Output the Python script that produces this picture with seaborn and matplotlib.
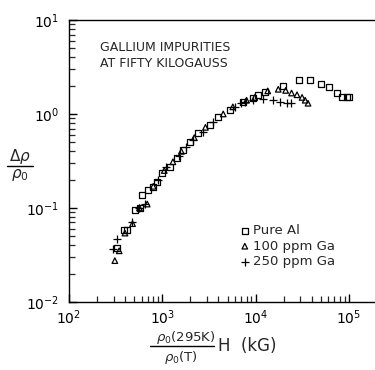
import numpy as np
import pandas as pd
import matplotlib
matplotlib.use("Agg")
import matplotlib.pyplot as plt
import seaborn as sns
from matplotlib.ticker import LogLocator, FixedLocator, NullFormatter
from matplotlib.lines import Line2D

sns.set_theme(style="white")
plt.rcParams['font.family'] = ['DejaVu Sans']
plt.rcParams['mathtext.fontset'] = 'dejavusans'

# Pure Al (open squares)
pure_x = [327, 389, 417, 509, 576, 603, 704, 795, 873, 1000, 1200, 1435, 1660, 1980,
          2400, 3230, 3960, 5300, 7300, 9300, 10700, 12600, 19500, 29500, 38700,
          50000, 61500, 74000, 85000, 95000, 100000]
pure_y = [0.0375, 0.058, 0.058, 0.095, 0.10, 0.137, 0.155, 0.168, 0.19, 0.236, 0.27,
          0.34, 0.41, 0.50, 0.63, 0.76, 0.93, 1.10, 1.34, 1.48, 1.60, 1.70, 2.0, 2.3,
          2.3, 2.1, 1.93, 1.68, 1.52, 1.50, 1.50]

# 100 ppm Ga (open triangles)
ga100_x = [310, 345, 398, 480, 570, 690, 800, 1050, 1300, 1600, 2200, 2900, 4500,
           5700, 8000, 9800, 13500, 17500, 21000, 24300, 27800, 31500, 34000, 36500]
ga100_y = [0.0275, 0.035, 0.054, 0.068, 0.10, 0.11, 0.17, 0.25, 0.31, 0.40, 0.56,
           0.72, 1.0, 1.19, 1.40, 1.50, 1.76, 1.83, 1.78, 1.67, 1.60, 1.50, 1.40, 1.30]

# 250 ppm Ga (plus signs)
ga250_x = [297, 327, 470, 560, 650, 900, 1100, 1500, 1800, 2130, 2700, 3500, 6000,
           7000, 7700, 9400, 12000, 15500, 18300, 21500, 24000]
ga250_y = [0.037, 0.047, 0.07, 0.10, 0.11, 0.20, 0.27, 0.36, 0.44, 0.53, 0.64, 0.82,
           1.2, 1.3, 1.34, 1.40, 1.44, 1.40, 1.35, 1.30, 1.30]

legend_labels = ["Pure Al", "100 ppm Ga", "250 ppm Ga"]

W, H = 375, 370
fig = plt.figure(figsize=(3.75, 3.7), dpi=100)
ax = fig.add_axes([0.184, 0.184, 0.816, 0.762])

df_p = pd.DataFrame({"x": pure_x, "y": pure_y})
df_a = pd.DataFrame({"x": ga100_x, "y": ga100_y})
df_b = pd.DataFrame({"x": ga250_x, "y": ga250_y})

sns.scatterplot(data=df_p, x="x", y="y", ax=ax, marker="s", s=18,
                facecolor="none", edgecolor="black", linewidth=0.9, label=legend_labels[0])
sns.scatterplot(data=df_a, x="x", y="y", ax=ax, marker="^", s=16,
                facecolor="none", edgecolor="black", linewidth=0.9, label=legend_labels[1])
sns.scatterplot(data=df_b, x="x", y="y", ax=ax, marker="+", s=36,
                color="black", linewidth=0.9, label=legend_labels[2])

ax.set_xscale("log")
ax.set_yscale("log")
ax.set_xlim(100, 10 ** 5.28)
ax.set_ylim(0.01, 10)

ax.xaxis.set_major_locator(FixedLocator([1e2, 1e3, 1e4, 1e5]))
ax.yaxis.set_major_locator(FixedLocator([1e-2, 1e-1, 1e0, 1e1]))
ax.xaxis.set_minor_locator(LogLocator(base=10, subs=np.arange(2, 10), numticks=20))
ax.yaxis.set_minor_locator(LogLocator(base=10, subs=np.arange(2, 10), numticks=20))
ax.xaxis.set_minor_formatter(NullFormatter())
ax.yaxis.set_minor_formatter(NullFormatter())
ax.set_xticklabels([r"$10^{2}$", r"$10^{3}$", r"$10^{4}$", r"$10^{5}$"])
ax.set_yticklabels([r"$10^{-2}$", r"$10^{-1}$", r"$10^{0}$", r"$10^{1}$"])

ax.tick_params(axis="both", which="major", direction="in", length=6, width=1,
               labelsize=10, colors="black", bottom=True, left=True, pad=7)
ax.tick_params(axis="x", which="major", pad=5)
ax.tick_params(axis="both", which="minor", direction="in", length=4, width=0.9,
               bottom=True, left=True)

for side in ["left", "bottom", "top"]:
    ax.spines[side].set_visible(True)
    ax.spines[side].set_color("black")
    ax.spines[side].set_linewidth(1.0)
ax.spines["right"].set_visible(False)

ax.set_xlabel("")
ax.set_ylabel("")

ax.text(0.10, 0.925, "GALLIUM IMPURITIES\nAT FIFTY KILOGAUSS", transform=ax.transAxes,
        fontsize=9, va="top", ha="left", linespacing=1.3)

leg = ax.legend(loc="upper left", bbox_to_anchor=(0.54, 0.295), frameon=False,
                fontsize=9.5, handletextpad=0.2, labelspacing=0.2, handlelength=0.8,
                borderaxespad=0)


def fx(px):
    return px / W


def fy(py):
    return 1 - py / H


# y-axis label: delta rho over rho0
fig.text(fx(20), fy(157), r"$\Delta\rho$", fontsize=11, ha="center", va="center")
fig.add_artist(Line2D([fx(7), fx(33)], [fy(166), fy(166)], color="black", lw=1.0))
fig.text(fx(20), fy(175), r"$\rho_0$", fontsize=11, ha="center", va="center")

# x-axis label: rho0(295K)/rho0(T) H (kG)
fig.text(fx(186), fy(337), r"$\rho_0$(295K)", fontsize=9.5, ha="center", va="center")
fig.add_artist(Line2D([fx(150), fx(214)], [fy(346), fy(346)], color="black", lw=1.0))
fig.text(fx(181), fy(357), r"$\rho_0$(T)", fontsize=9.5, ha="center", va="center")
fig.text(fx(218), fy(346), "H  (kG)", fontsize=12, ha="left", va="center")

fig.savefig("out.png", dpi=100)
